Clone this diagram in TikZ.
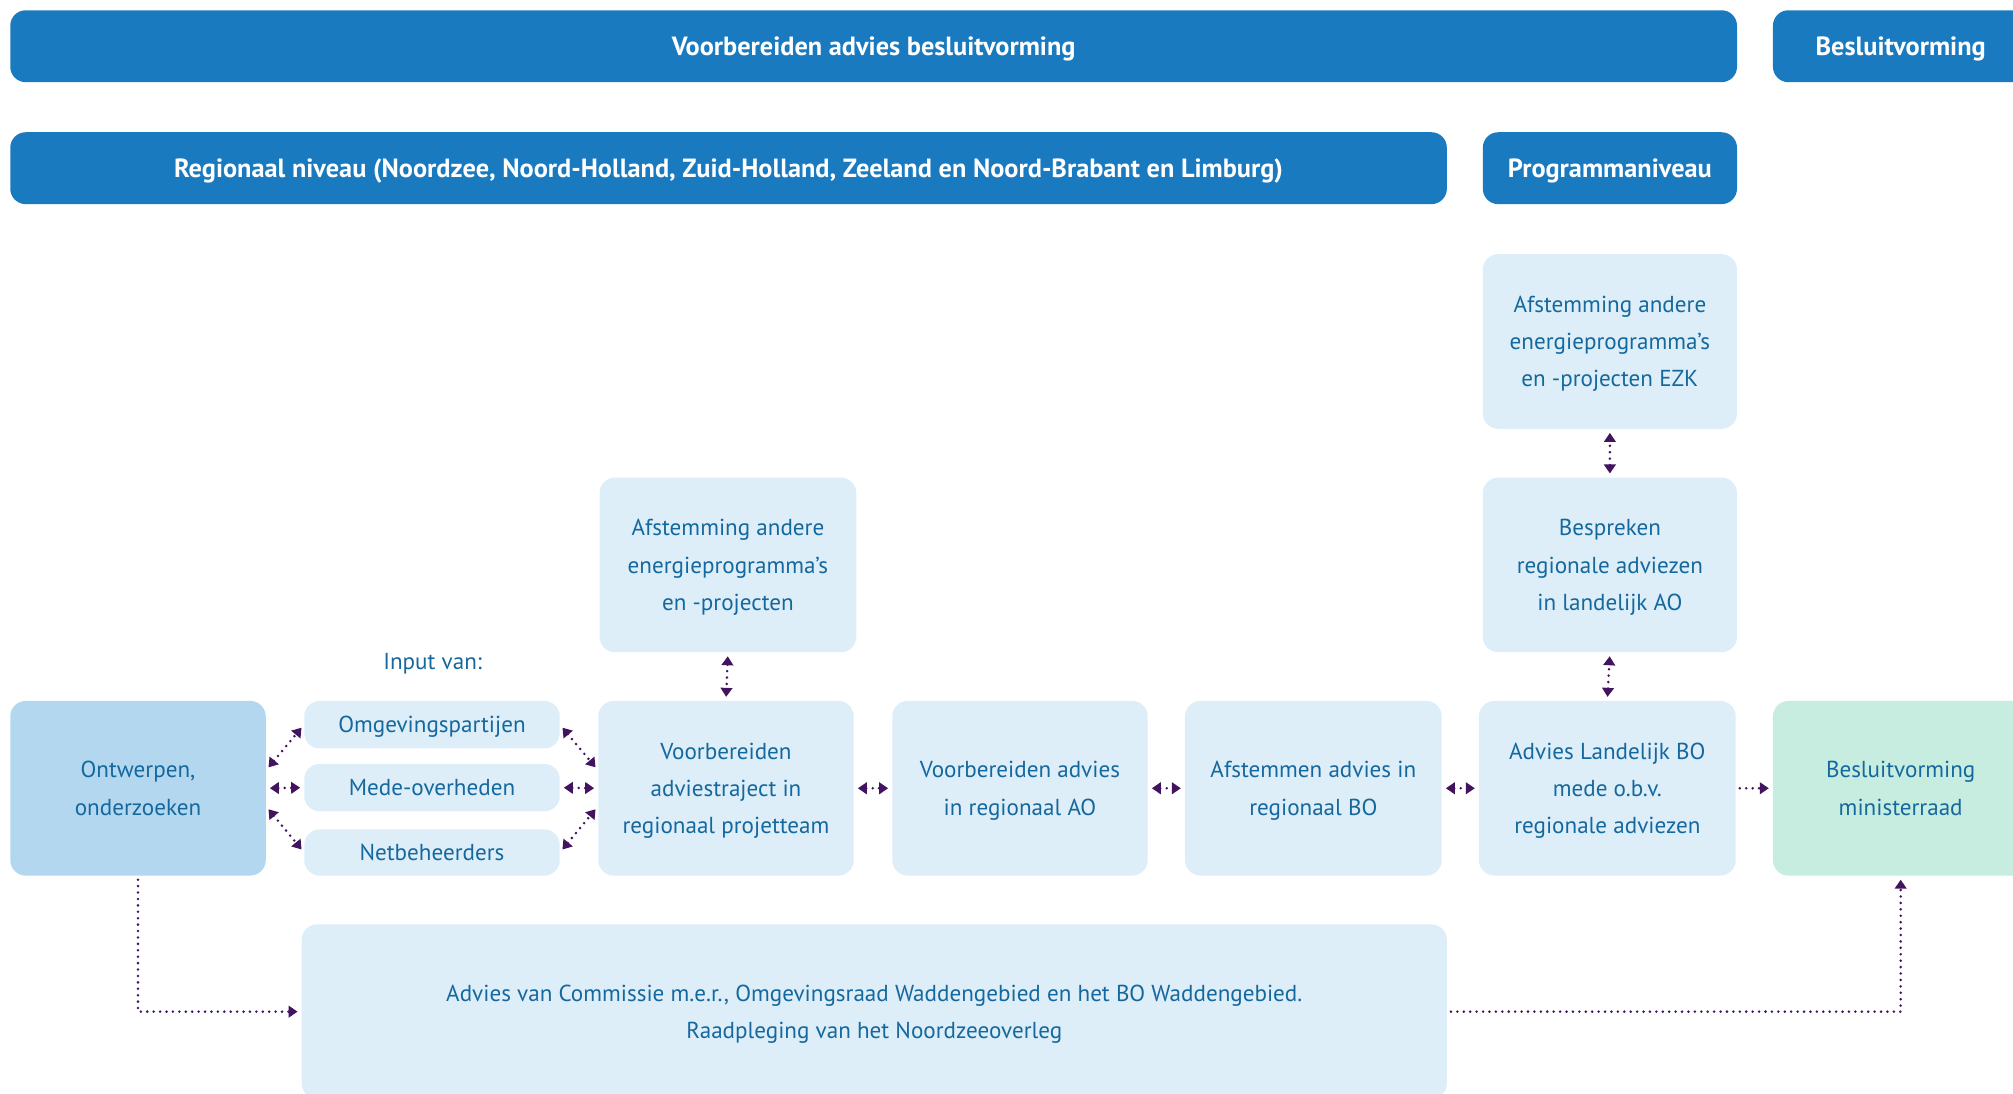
\documentclass[tikz,border=0pt]{standalone}
\usepackage{fontspec}
\setmainfont{PT Sans}
\usepackage{tikz}
\usetikzlibrary{arrows.meta}

\definecolor{kopblauw}{HTML}{1A7ABF}
\definecolor{vakblauw}{HTML}{DDEEF8}
\definecolor{donkervak}{HTML}{B3D7EE}
\definecolor{mintvak}{HTML}{C7EDE1}
\definecolor{tekstblauw}{HTML}{14689E}
\definecolor{pijlpaars}{HTML}{42145F}

\begin{document}
\begin{tikzpicture}[x=1pt, y=-1pt,
        kop/.style={shape=rectangle, rounded corners=12pt, fill=kopblauw, text=white,
            font=\fontsize{20.5}{24}\selectfont\bfseries, minimum height=56pt, inner sep=0pt,
            text height=14.5pt, text depth=0pt},
        vak/.style={shape=rectangle, rounded corners=12pt, fill=vakblauw, text=tekstblauw,
            font=\fontsize{18}{29}\selectfont, align=center, minimum width=199pt,
            minimum height=136pt, inner sep=0pt, text depth=-1.5pt},
        klein/.style={vak, minimum height=37pt},
        verbinding/.style={draw=pijlpaars, line width=2.2pt, line cap=round,
            dash pattern=on 0pt off 5pt, shorten <=3pt, shorten >=3pt},
        tweezijdig/.style={verbinding, {Triangle[width=9pt,length=7pt]}-{Triangle[width=9pt,length=7pt]}},
        eenzijdig/.style={verbinding, -{Triangle[width=9pt,length=7pt]}}]
    \useasboundingbox (0,0) rectangle (1568,852);
    \clip (0,0) rectangle (1568,852);

    % kopbalken
    \node[kop, minimum width=1345pt] (voorbereiden) at (680.5,36) {Voorbereiden advies besluitvorming};
    \node[kop, minimum width=199pt] (besluit) at (1480.5,36) {Besluitvorming};
    \node[kop, minimum width=1119pt] (regionaal) at (567.5,131) {Regionaal niveau (Noordzee, Noord-Holland, Zuid-Holland, Zeeland en Noord-Brabant en Limburg)};
    \node[kop, minimum width=198pt] (programma) at (1254,131) {Programmaniveau};

    % bovenste vakken
    \node[vak, minimum width=198pt] (ezk) at (1254,266) {Afstemming andere\\energieprogramma’s\\en -projecten EZK};
    \node[vak, minimum width=200pt] (afst) at (567,440) {Afstemming andere\\energieprogramma’s\\en -projecten};
    \node[vak, minimum width=198pt] (bespr) at (1254,440) {Bespreken\\regionale adviezen\\in landelijk AO};

    % hoofdrij
    \node[text=tekstblauw, font=\fontsize{18}{20}\selectfont] (input) at (337,517) {Input van:};
    \node[vak, fill=donkervak] (ontw) at (107.5,614) {Ontwerpen,\\onderzoeken};
    \node[klein] (omg) at (336.5,564.5) {Omgevingspartijen};
    \node[klein] (mede) at (336.5,613.5) {Mede-overheden};
    \node[klein, minimum height=36pt] (net) at (336.5,664) {Netbeheerders};
    \node[vak] (voorb) at (565.5,614) {Voorbereiden\\adviestraject in\\regionaal projetteam};
    \node[vak] (ao) at (794.5,614) {Voorbereiden advies\\in regionaal AO};
    \node[vak, minimum width=200pt] (bo) at (1023,614) {Afstemmen advies in\\regionaal BO};
    \node[vak, minimum width=200pt] (lbo) at (1252,614) {Advies Landelijk BO\\mede o.b.v.\\regionale adviezen};
    \node[vak, fill=mintvak] (minr) at (1480.5,614) {Besluitvorming\\ministerraad};

    % onderste vak
    \node[vak, minimum width=892pt] (advies) at (681,788) {Advies van Commissie m.e.r., Omgevingsraad Waddengebied en het BO Waddengebied.\\Raadpleging van het Noordzeeoverleg};

    % verbindingen
    \draw[tweezijdig] ([yshift=14pt]ontw.east) -- (omg.west);
    \draw[tweezijdig] (ontw.east) -- (mede.west);
    \draw[tweezijdig] ([yshift=-14pt]ontw.east) -- (net.west);
    \draw[tweezijdig] (omg.east) -- ([yshift=14pt]voorb.west);
    \draw[tweezijdig] (mede.east) -- (voorb.west);
    \draw[tweezijdig] (net.east) -- ([yshift=-14pt]voorb.west);
    \draw[tweezijdig] (afst.south) -- (voorb.north);
    \draw[tweezijdig] (voorb.east) -- (ao.west);
    \draw[tweezijdig] (ao.east) -- (bo.west);
    \draw[tweezijdig] (bo.east) -- (lbo.west);
    \draw[tweezijdig] (lbo.north) -- (bespr.south);
    \draw[tweezijdig] (bespr.north) -- (ezk.south);
    \draw[eenzijdig] (lbo.east) -- (minr.west);
    \draw[eenzijdig] (ontw.south) |- (advies.west);
    \draw[eenzijdig] (advies.east) -| (minr.south);
\end{tikzpicture}
\end{document}
